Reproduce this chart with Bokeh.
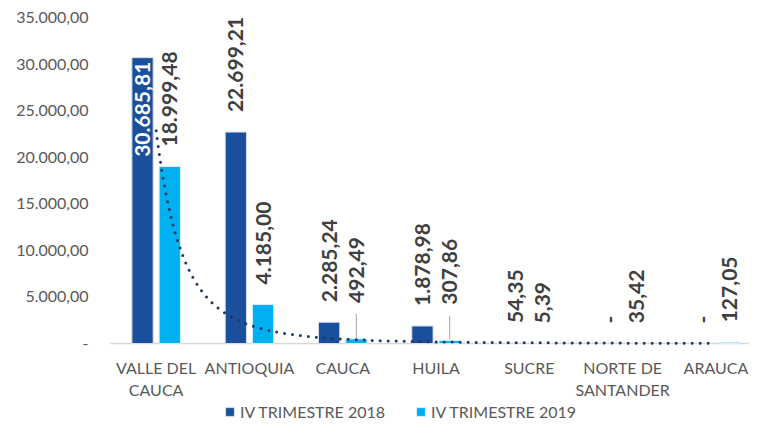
import numpy as np
from bokeh.plotting import figure
from bokeh.models import Range1d, FixedTicker, ColumnDataSource, Legend, LegendItem
from bokeh.core.properties import value
from bokeh.embed import file_html
from bokeh.resources import INLINE

# ---------------- data ----------------
categories = ["VALLE DEL\nCAUCA", "ANTIOQUIA", "CAUCA", "HUILA", "SUCRE",
              "NORTE DE\nSANTANDER", "ARAUCA"]
series_names = ["IV TRIMESTRE 2018", "IV TRIMESTRE 2019"]
values_2018 = [30685.81, 22699.21, 2285.24, 1878.98, 54.35, 0.0, 0.0]
values_2019 = [18999.48, 4185.00, 492.49, 307.86, 5.39, 35.42, 127.05]
y_ticks = [0, 5000, 10000, 15000, 20000, 25000, 30000, 35000]
y_tick_labels = ["-", "5.000,00", "10.000,00", "15.000,00", "20.000,00",
                 "25.000,00", "30.000,00", "35.000,00"]

# ---------------- styles / layout ----------------
DARK = "#1A4F9B"
LIGHT = "#00B0F0"
TREND = "#1F3864"
LABEL_COLOR = "#404040"
AXIS_TEXT = "#595959"
FONT = "Lato"

W, H = 749, 422
FL, FT = 109, 17
FRAME_W = W - FL
FRAME_H = H - FT
PLOT_H = 326                 # pixels between 0 and 35.000
BELOW_PX = FRAME_H - PLOT_H  # room under the baseline for category labels + legend
CAT_PX = 93.3
X_SPAN = FRAME_W / CAT_PX
Y_MAX = 35000
UPP = Y_MAX / PLOT_H         # data units per pixel
Y_MIN = -BELOW_PX * UPP
OFF = 0.146                  # bar offset from category centre (category units)
BAR_W = 0.228


def fmt(v):
    if v == 0:
        return "-"
    s = f"{v:,.2f}"
    return s.replace(",", "X").replace(".", ",").replace("X", ".")


n = len(categories)
centers = [i + 0.5 for i in range(n)]
x18 = [c - OFF for c in centers]
x19 = [c + OFF for c in centers]

p = figure(width=W, height=H, x_range=Range1d(0, X_SPAN), y_range=Range1d(Y_MIN, Y_MAX),
           output_backend="svg", toolbar_location=None,
           min_border_left=FL, min_border_right=0, min_border_top=FT,
           min_border_bottom=0)
p.outline_line_color = None
p.grid.visible = False
p.xaxis.visible = False
p.background_fill_color = "white"

# category axis line at zero
p.segment(x0=[0], y0=[0], x1=[X_SPAN], y1=[0], line_color="#D9D9D9", line_width=1.5)

r18 = p.vbar(x=x18, top=values_2018, width=BAR_W, fill_color=DARK,
             line_color="#D6DEEB", line_width=1)
r19 = p.vbar(x=x19, top=values_2019, width=BAR_W, fill_color=LIGHT,
             line_color="#D6EEF8", line_width=1)

# power trendline fitted (least squares in log space) to the 2019 series
xs_fit = np.arange(1, n + 1, dtype=float)
b, ln_a = np.polyfit(np.log(xs_fit), np.log(np.array(values_2019)), 1)
xt = np.linspace(1, n, 300)
yt = np.exp(ln_a) * xt ** b
p.line(xt - 0.5, yt, line_color=TREND, line_width=3, line_dash="0 8",
       line_cap="round")

# ---------------- data labels ----------------
lab_x, lab_y, lab_t, lab_c, lab_a = [], [], [], [], []
lifted = {2, 3}      # 2019 labels lifted with leader lines (CAUCA, HUILA)
seg_x, seg_y0, seg_y1 = [], [], []
for i in range(n):
    v = values_2018[i]
    if i == 0:  # largest bar: label inside the bar end, white
        lab_x.append(x18[i]); lab_y.append(v - 4 * UPP); lab_t.append(fmt(v))
        lab_c.append("white"); lab_a.append("right")
    else:
        lab_x.append(x18[i]); lab_y.append(v + 20 * UPP); lab_t.append(fmt(v))
        lab_c.append(LABEL_COLOR); lab_a.append("left")
    v = values_2019[i]
    if i in lifted:
        lab_y.append(v + 36 * UPP)
        seg_x.append(x19[i]); seg_y0.append(v + 1 * UPP); seg_y1.append(v + 25 * UPP)
    else:
        lab_y.append(v + 20 * UPP)
    lab_x.append(x19[i]); lab_t.append(fmt(v)); lab_c.append(LABEL_COLOR); lab_a.append("left")

p.segment(x0=seg_x, y0=seg_y0, x1=seg_x, y1=seg_y1, line_color="#A6A6A6", line_width=1)

src = ColumnDataSource(dict(x=lab_x, y=lab_y, t=lab_t, c=lab_c, a=lab_a))
p.text(x="x", y="y", text="t", source=src, angle=np.pi / 2, text_align="a",
       text_baseline="middle", text_color="c", text_font=value(FONT),
       text_font_style="bold", text_font_size="21px")

# ---------------- category labels ----------------
p.text(x=centers, y=[-14 * UPP] * n, text=categories, text_align="center",
       text_baseline="top", text_color=AXIS_TEXT, text_font=value(FONT),
       text_font_size="16px", text_line_height=1.2)

# ---------------- value axis ----------------
p.yaxis.ticker = FixedTicker(ticks=y_ticks)
p.yaxis.major_label_overrides = {t: l for t, l in zip(y_ticks, y_tick_labels)}
p.yaxis.axis_line_color = None
p.yaxis.major_tick_line_color = None
p.yaxis.minor_tick_line_color = None
p.yaxis.major_tick_out = 0
p.yaxis.major_label_standoff = 21
p.yaxis.major_label_text_font = FONT
p.yaxis.major_label_text_font_size = "16px"
p.yaxis.major_label_text_color = AXIS_TEXT

# ---------------- legend ----------------
legend = Legend(items=[LegendItem(label=series_names[0], renderers=[r18]),
                       LegendItem(label=series_names[1], renderers=[r19])],
                orientation="horizontal", location=(115, 1),
                label_text_font=FONT, label_text_font_size="16px",
                label_text_color=AXIS_TEXT, glyph_width=11, glyph_height=11,
                label_standoff=5, spacing=30, padding=0, margin=0,
                border_line_color=None, background_fill_alpha=0)
p.add_layout(legend, "center")

open("out.html", "w").write(file_html(p, INLINE))
